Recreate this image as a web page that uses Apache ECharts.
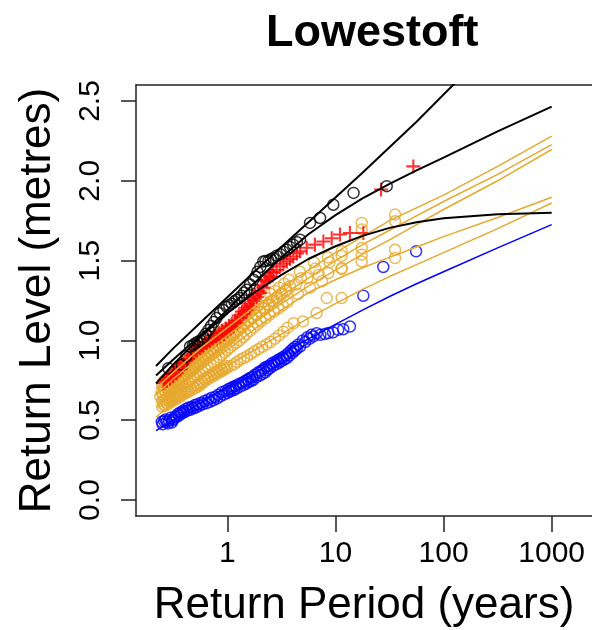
<!DOCTYPE html>
<html>
<head>
<meta charset="utf-8">
<script src="https://cdn.jsdelivr.net/npm/echarts@6/dist/echarts.min.js"></script>
<style>
  html, body { margin: 0; padding: 0; background: #fff; }
  #chart { width: 592px; height: 630px; }
</style>
</head>
<body>
<div id="chart"></div>
<script>
// tick positions
const periodTicks = [1, 10, 100, 1000]
const levelTicks = [0, 0.5, 1, 1.5, 2, 2.5]

// fitted return level curves, all on the same return periods (years)
const curvePeriods = [0.219, 0.316, 0.562, 1, 1.778, 3.162, 5.623, 10, 17.78, 31.62, 56.23, 100, 316.2, 1000]
const blackSteep = [0.84, 0.95, 1.11, 1.27, 1.43, 1.585, 1.74, 1.895, 2.05, 2.21, 2.37, 2.54, 2.88, 3.25]
const blackMid = [0.78, 0.88, 1.03, 1.19, 1.36, 1.52, 1.665, 1.785, 1.89, 1.98, 2.065, 2.145, 2.31, 2.465]
const blackFlat = [0.73, 0.85, 1.02, 1.17, 1.30, 1.41, 1.51, 1.59, 1.655, 1.705, 1.74, 1.765, 1.79, 1.80]
const orangeCurve1 = [0.70, 0.80, 0.95, 1.08, 1.21, 1.33, 1.44, 1.55, 1.65, 1.75, 1.83, 1.91, 2.09, 2.28]
const orangeCurve2 = [0.66, 0.76, 0.90, 1.03, 1.16, 1.28, 1.39, 1.50, 1.60, 1.69, 1.78, 1.87, 2.04, 2.227]
const orangeCurve3 = [0.62, 0.72, 0.86, 0.98, 1.11, 1.23, 1.34, 1.44, 1.54, 1.63, 1.725, 1.82, 2.00, 2.196]
const orangeCurve4 = [0.58, 0.68, 0.82, 0.94, 1.07, 1.19, 1.30, 1.38, 1.455, 1.52, 1.585, 1.65, 1.77, 1.897]
const orangeCurve5 = [0.52, 0.61, 0.73, 0.84, 0.94, 1.04, 1.14, 1.23, 1.32, 1.40, 1.475, 1.55, 1.70, 1.861]
const blueCurve = [0.435, 0.50, 0.61, 0.71, 0.815, 0.915, 1.01, 1.10, 1.19, 1.275, 1.355, 1.43, 1.58, 1.725]

// empirical points
const blackT = [0.284, 0.38, 0.417, 0.452, 0.48, 0.5, 0.53, 0.562, 0.6, 0.63, 0.67, 0.708, 0.75, 0.794, 0.855, 0.92, 0.986, 1.04, 1.1, 1.16, 1.22, 1.28, 1.35, 1.43, 1.51, 1.62, 1.74, 1.82, 1.9, 2.02, 2.15, 2.25, 2.4, 2.52, 2.66, 2.85, 3.09, 3.3, 3.55, 3.8, 4.07, 4.4, 4.71, 5.82, 7.21, 9.55, 14.7, 29.8]
const blackLevel = [0.826, 0.847, 0.90, 0.962, 0.97, 0.98, 0.99, 1.0, 1.02, 1.04, 1.065, 1.09, 1.115, 1.14, 1.17, 1.19, 1.21, 1.22, 1.23, 1.245, 1.255, 1.265, 1.28, 1.30, 1.317, 1.35, 1.38, 1.40, 1.43, 1.46, 1.495, 1.497, 1.50, 1.508, 1.516, 1.53, 1.54, 1.555, 1.568, 1.585, 1.60, 1.615, 1.631, 1.736, 1.767, 1.85, 1.924, 1.966]

const redT = [0.257, 0.266, 0.275, 0.285, 0.295, 0.306, 0.317, 0.328, 0.34, 0.355, 0.37, 0.384, 0.398, 0.42, 0.44, 0.46, 0.484, 0.50, 0.52, 0.54, 0.562, 0.58, 0.6, 0.62, 0.645, 0.667, 0.69, 0.715, 0.741, 0.77, 0.8, 0.83, 0.855, 0.89, 0.93, 0.965, 1.0, 1.035, 1.07, 1.1, 1.135, 1.18, 1.23, 1.275, 1.32, 1.365, 1.41, 1.46, 1.51, 1.565, 1.62, 1.68, 1.74, 1.8, 1.87, 1.93, 2.0, 2.07, 2.15, 2.23, 2.31, 2.4, 2.48, 2.57, 2.66, 2.85, 3.07, 3.3, 3.55, 3.8, 4.07, 4.4, 4.71, 5.42, 6.46, 7.73, 9.23, 11.0, 13.6, 18.1, 26.4, 52.5]
const redLevel = [0.732, 0.75, 0.745, 0.77, 0.76, 0.79, 0.775, 0.81, 0.795, 0.835, 0.82, 0.86, 0.85, 0.875, 0.885, 0.905, 0.92, 0.945, 0.935, 0.96, 0.95, 0.975, 0.965, 0.99, 0.983, 1.005, 0.99, 1.015, 1.0, 1.03, 1.012, 1.045, 1.025, 1.06, 1.04, 1.075, 1.06, 1.09, 1.075, 1.105, 1.087, 1.125, 1.11, 1.155, 1.14, 1.18, 1.165, 1.205, 1.19, 1.23, 1.215, 1.26, 1.245, 1.285, 1.27, 1.31, 1.297, 1.345, 1.33, 1.38, 1.37, 1.405, 1.395, 1.43, 1.422, 1.44, 1.464, 1.48, 1.495, 1.51, 1.526, 1.545, 1.558, 1.58, 1.60, 1.62, 1.64, 1.663, 1.673, 1.673, 1.945, 2.09]

const blueT = [0.247, 0.252, 0.26, 0.268, 0.275, 0.283, 0.29, 0.298, 0.306, 0.313, 0.32, 0.33, 0.339, 0.35, 0.36, 0.37, 0.38, 0.39, 0.40, 0.413, 0.427, 0.44, 0.455, 0.47, 0.484, 0.50, 0.515, 0.53, 0.55, 0.57, 0.59, 0.615, 0.645, 0.665, 0.69, 0.715, 0.74, 0.77, 0.80, 0.825, 0.855, 0.89, 0.93, 0.965, 1.0, 1.025, 1.05, 1.075, 1.1, 1.13, 1.16, 1.19, 1.22, 1.26, 1.31, 1.36, 1.41, 1.455, 1.5, 1.54, 1.58, 1.62, 1.66, 1.70, 1.74, 1.8, 1.86, 1.93, 2.0, 2.06, 2.12, 2.18, 2.24, 2.3, 2.36, 2.42, 2.48, 2.56, 2.65, 2.73, 2.82, 2.9, 3.0, 3.08, 3.16, 3.25, 3.35, 3.45, 3.55, 3.65, 3.75, 3.87, 3.98, 4.07, 4.17, 4.27, 4.37, 4.54, 4.71, 5.0, 5.25, 5.5, 5.75, 6.0, 6.25, 6.7, 7.25, 8.0, 8.6, 9.5, 10.6, 11.8, 13.6, 18.1, 27.7, 55.7]
const blueLevel = [0.49, 0.475, 0.495, 0.505, 0.49, 0.48, 0.50, 0.515, 0.485, 0.50, 0.51, 0.525, 0.52, 0.54, 0.53, 0.55, 0.544, 0.56, 0.55, 0.57, 0.56, 0.58, 0.565, 0.585, 0.575, 0.595, 0.58, 0.60, 0.59, 0.61, 0.60, 0.62, 0.607, 0.63, 0.615, 0.64, 0.625, 0.645, 0.635, 0.66, 0.648, 0.675, 0.66, 0.685, 0.67, 0.695, 0.68, 0.70, 0.685, 0.71, 0.69, 0.715, 0.70, 0.725, 0.71, 0.735, 0.72, 0.745, 0.73, 0.755, 0.74, 0.765, 0.745, 0.77, 0.753, 0.785, 0.77, 0.80, 0.78, 0.81, 0.79, 0.825, 0.80, 0.835, 0.815, 0.84, 0.826, 0.855, 0.84, 0.865, 0.85, 0.875, 0.86, 0.885, 0.87, 0.895, 0.88, 0.905, 0.889, 0.92, 0.905, 0.935, 0.92, 0.95, 0.935, 0.96, 0.945, 0.975, 0.962, 1.0, 0.99, 1.02, 1.01, 1.035, 1.025, 1.045, 1.035, 1.04, 1.046, 1.05, 1.066, 1.07, 1.087, 1.28, 1.46, 1.558]

const orangeT1 = [0.251, 0.258, 0.265, 0.273, 0.282, 0.29, 0.3, 0.308, 0.316, 0.325, 0.335, 0.345, 0.355, 0.365, 0.375, 0.386, 0.398, 0.41, 0.42, 0.433, 0.447, 0.46, 0.473, 0.487, 0.501, 0.515, 0.53, 0.546, 0.562, 0.58, 0.595, 0.613, 0.631, 0.65, 0.67, 0.69, 0.708, 0.73, 0.75, 0.77, 0.794, 0.815, 0.84, 0.865, 0.891, 0.92, 0.945, 0.97, 1.0, 1.07, 1.148, 1.23, 1.318, 1.41, 1.514, 1.64, 1.778, 1.93, 2.089, 2.3, 2.512, 2.75, 3.02, 3.35, 3.715, 4.677, 6.31, 8.51, 11.43, 17.5, 35.6]
const orangeLevel1 = [0.72, 0.745, 0.73, 0.755, 0.74, 0.77, 0.755, 0.785, 0.77, 0.80, 0.785, 0.815, 0.80, 0.83, 0.815, 0.845, 0.83, 0.86, 0.845, 0.875, 0.86, 0.89, 0.875, 0.905, 0.89, 0.92, 0.905, 0.935, 0.92, 0.95, 0.935, 0.965, 0.95, 0.98, 0.965, 0.995, 0.98, 1.01, 0.995, 1.02, 1.01, 1.035, 1.02, 1.045, 1.03, 1.06, 1.045, 1.075, 1.06, 1.075, 1.09, 1.105, 1.12, 1.14, 1.16, 1.18, 1.20, 1.22, 1.24, 1.265, 1.29, 1.31, 1.33, 1.355, 1.38, 1.43, 1.49, 1.52, 1.558, 1.736, 1.788]
const orangeT2 = [0.26, 0.275, 0.29, 0.31, 0.33, 0.35, 0.37, 0.39, 0.41, 0.435, 0.46, 0.49, 0.52, 0.55, 0.58, 0.615, 0.65, 0.69, 0.73, 0.775, 0.82, 0.87, 0.92, 0.975, 1.03, 1.1, 1.18, 1.27, 1.36, 1.46, 1.56, 1.7, 1.83, 2.0, 2.15, 2.4, 2.6, 2.85, 3.1, 3.45, 3.8, 4.8, 6.5, 8.8, 11.4, 17.5, 35.6]
const orangeLevel2 = [0.69, 0.70, 0.71, 0.725, 0.74, 0.755, 0.77, 0.78, 0.79, 0.805, 0.82, 0.835, 0.85, 0.865, 0.88, 0.895, 0.91, 0.925, 0.94, 0.955, 0.97, 0.98, 0.99, 1.005, 1.02, 1.035, 1.05, 1.065, 1.08, 1.10, 1.12, 1.14, 1.16, 1.18, 1.20, 1.225, 1.25, 1.27, 1.29, 1.315, 1.34, 1.39, 1.45, 1.49, 1.53, 1.694, 1.746]
const orangeT3 = [0.24, 0.247, 0.255, 0.262, 0.27, 0.277, 0.285, 0.292, 0.30, 0.31, 0.32, 0.33, 0.34, 0.35, 0.36, 0.37, 0.38, 0.39, 0.40, 0.41, 0.42, 0.432, 0.445, 0.457, 0.47, 0.485, 0.5, 0.515, 0.53, 0.547, 0.565, 0.582, 0.6, 0.617, 0.635, 0.652, 0.67, 0.69, 0.71, 0.73, 0.75, 0.775, 0.8, 0.825, 0.85, 0.875, 0.9, 0.93, 0.96, 1.02, 1.08, 1.16, 1.25, 1.35, 1.45, 1.57, 1.7, 1.85, 2.0, 2.2, 2.4, 2.65, 2.9, 3.2, 3.5, 4.3, 5.5, 7.0, 8.6, 11.4, 17.5]
const orangeLevel3 = [0.65, 0.675, 0.66, 0.685, 0.67, 0.70, 0.685, 0.71, 0.70, 0.725, 0.71, 0.735, 0.72, 0.75, 0.735, 0.765, 0.75, 0.78, 0.765, 0.79, 0.78, 0.81, 0.795, 0.825, 0.81, 0.84, 0.825, 0.855, 0.84, 0.87, 0.855, 0.885, 0.87, 0.90, 0.885, 0.915, 0.90, 0.93, 0.915, 0.945, 0.93, 0.96, 0.945, 0.975, 0.96, 0.99, 0.975, 1.005, 0.99, 1.005, 1.02, 1.04, 1.06, 1.08, 1.10, 1.12, 1.14, 1.16, 1.18, 1.20, 1.22, 1.245, 1.27, 1.29, 1.31, 1.35, 1.39, 1.41, 1.422, 1.453, 1.579]
const orangeT4 = [0.25, 0.265, 0.28, 0.295, 0.31, 0.33, 0.35, 0.37, 0.39, 0.415, 0.44, 0.465, 0.49, 0.52, 0.55, 0.585, 0.62, 0.66, 0.7, 0.745, 0.79, 0.84, 0.89, 0.945, 1.0, 1.06, 1.13, 1.21, 1.3, 1.4, 1.5, 1.62, 1.75, 1.9, 2.05, 2.25, 2.45, 2.7, 2.95, 3.25, 3.6, 4.5, 5.8, 7.5, 11.4, 17.5, 35.6]
const orangeLevel4 = [0.62, 0.63, 0.64, 0.65, 0.66, 0.675, 0.69, 0.70, 0.71, 0.725, 0.74, 0.755, 0.77, 0.78, 0.79, 0.805, 0.82, 0.835, 0.85, 0.865, 0.88, 0.895, 0.91, 0.925, 0.94, 0.955, 0.97, 0.985, 1.0, 1.02, 1.04, 1.06, 1.08, 1.10, 1.12, 1.14, 1.16, 1.18, 1.20, 1.22, 1.24, 1.29, 1.33, 1.37, 1.447, 1.537, 1.568]
const orangeT5 = [0.25, 0.257, 0.265, 0.272, 0.28, 0.287, 0.295, 0.302, 0.31, 0.32, 0.33, 0.34, 0.35, 0.36, 0.37, 0.38, 0.39, 0.402, 0.415, 0.427, 0.44, 0.455, 0.47, 0.485, 0.5, 0.515, 0.53, 0.545, 0.56, 0.577, 0.595, 0.612, 0.63, 0.65, 0.67, 0.69, 0.71, 0.732, 0.755, 0.777, 0.8, 0.825, 0.85, 0.875, 0.9, 0.925, 0.95, 0.975, 1.0, 1.07, 1.15, 1.23, 1.32, 1.42, 1.52, 1.65, 1.78, 1.94, 2.1, 2.3, 2.5, 2.75, 3.0, 3.3, 3.6, 4.1, 5.0, 6.7, 8.3, 11.4, 17.5, 35.6]
const orangeLevel5 = [0.585, 0.60, 0.59, 0.61, 0.60, 0.62, 0.61, 0.63, 0.62, 0.64, 0.63, 0.65, 0.64, 0.66, 0.65, 0.67, 0.66, 0.68, 0.67, 0.69, 0.68, 0.70, 0.69, 0.71, 0.70, 0.72, 0.71, 0.73, 0.72, 0.745, 0.735, 0.76, 0.75, 0.77, 0.76, 0.78, 0.77, 0.79, 0.78, 0.80, 0.79, 0.81, 0.80, 0.82, 0.81, 0.83, 0.82, 0.84, 0.83, 0.84, 0.85, 0.865, 0.88, 0.89, 0.90, 0.915, 0.93, 0.945, 0.96, 0.975, 0.99, 1.01, 1.03, 1.055, 1.08, 1.108, 1.119, 1.171, 1.265, 1.265, 1.495, 1.516]

const BLACK = '#000000'
const RED = '#ff0000'
const ORANGE = '#e6a92e'
const BLUE = '#0000ff'
const FRAME = '#222222'
const FONT = '"Liberation Sans", Arial, Helvetica, sans-serif'

const zip = (xs, ys) => xs.map((x, i) => [x, ys[i]])

const circles = (t, lv, color) => ({
  type: 'scatter',
  data: zip(t, lv),
  symbol: 'circle',
  symbolSize: 11,
  itemStyle: { color: 'rgba(0,0,0,0)', borderColor: color, borderWidth: 1.5 },
  silent: true,
  z: 3
})

const curve = (lv, color, width) => ({
  type: 'line',
  data: zip(curvePeriods, lv),
  showSymbol: false,
  smooth: false,
  lineStyle: { color: color, width: width },
  silent: true,
  z: 4
})

const chart = echarts.init(document.getElementById('chart'), null, { renderer: 'canvas' })

chart.setOption({
  animation: false,
  title: {
    text: 'Lowestoft',
    left: 261,
    top: 6,
    textStyle: { fontFamily: FONT, fontSize: 45, fontWeight: 'bold', color: '#000' }
  },
  grid: { left: 136, right: 0, top: 85, bottom: 114, show: false, outerBoundsMode: 'none' },
  xAxis: [{
    type: 'log',
    logBase: 10,
    min: 0.1429,
    max: 2360,
    name: 'Return Period (years)',
    nameLocation: 'middle',
    nameGap: 68,
    nameTextStyle: { fontFamily: FONT, fontSize: 44, color: '#000' },
    axisLine: { show: true, onZero: false, lineStyle: { color: FRAME, width: 1.5 } },
    splitLine: { show: false },
    axisTick: {
      show: true, length: 16, customValues: periodTicks,
      lineStyle: { color: FRAME, width: 1.5 }
    },
    axisLabel: {
      customValues: periodTicks,
      margin: 23,
      fontFamily: FONT, fontSize: 30, color: '#000',
      formatter: v => String(v)
    }
  }, {
    // top frame line only
    type: 'log',
    logBase: 10,
    min: 0.1429,
    max: 2360,
    position: 'top',
    axisLine: { show: true, onZero: false, lineStyle: { color: FRAME, width: 1.5 } },
    axisTick: { show: false },
    axisLabel: { show: false },
    splitLine: { show: false }
  }],
  yAxis: {
    type: 'value',
    min: -0.1,
    max: 2.6,
    name: 'Return Level (metres)',
    nameLocation: 'middle',
    nameGap: 76,
    nameTextStyle: { fontFamily: FONT, fontSize: 44, color: '#000' },
    axisLine: { show: true, onZero: false, lineStyle: { color: FRAME, width: 1.5 } },
    splitLine: { show: false },
    axisTick: {
      show: true, length: 15, customValues: levelTicks,
      lineStyle: { color: FRAME, width: 1.5 }
    },
    axisLabel: {
      customValues: levelTicks,
      rotate: 90,
      margin: 30,
      fontFamily: FONT, fontSize: 30, color: '#000',
      formatter: v => v.toFixed(1)
    }
  },
  series: [
    circles(orangeT1, orangeLevel1, ORANGE),
    circles(orangeT2, orangeLevel2, ORANGE),
    circles(orangeT3, orangeLevel3, ORANGE),
    circles(orangeT4, orangeLevel4, ORANGE),
    circles(orangeT5, orangeLevel5, ORANGE),
    curve(orangeCurve1, ORANGE, 1.5),
    curve(orangeCurve2, ORANGE, 1.5),
    curve(orangeCurve3, ORANGE, 1.5),
    curve(orangeCurve4, ORANGE, 1.5),
    curve(orangeCurve5, ORANGE, 1.5),
    circles(blueT, blueLevel, BLUE),
    curve(blueCurve, BLUE, 1.5),
    {
      type: 'scatter',
      data: zip(redT, redLevel),
      symbol: 'path://M-1.2,-8H1.2V-1.2H8V1.2H1.2V8H-1.2V1.2H-8V-1.2H-1.2Z',
      symbolSize: 14,
      itemStyle: { color: RED },
      silent: true,
      z: 3
    },
    circles(blackT, blackLevel, BLACK),
    curve(blackSteep, BLACK, 2),
    curve(blackMid, BLACK, 2),
    curve(blackFlat, BLACK, 2)
  ]
})
</script>
</body>
</html>
